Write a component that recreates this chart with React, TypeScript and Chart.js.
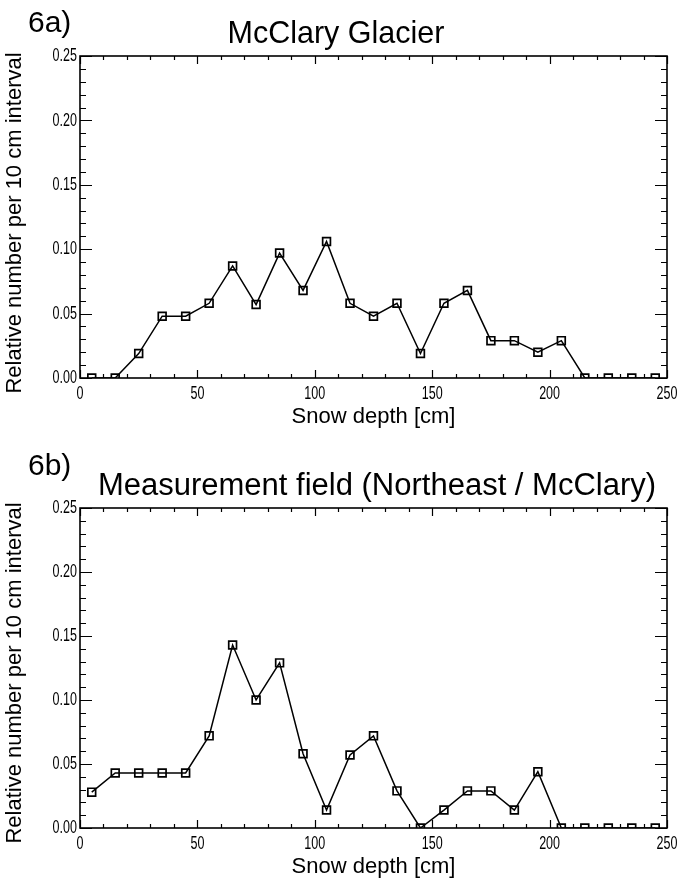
import React, { useEffect, useRef } from "react";
import { Chart, registerables } from "chart.js";

Chart.register(...registerables);

// ---- data ----
const depths = [5, 15, 25, 35, 45, 55, 65, 75, 85, 95, 105, 115, 125, 135, 145, 155, 165, 175, 185, 195, 205, 215, 225, 235, 245];
const mcclaryValues = [0, 0, 0.019, 0.048, 0.048, 0.058, 0.087, 0.057, 0.097, 0.068, 0.106, 0.058, 0.048, 0.058, 0.019, 0.058, 0.068, 0.029, 0.029, 0.02, 0.029, 0, 0, 0, 0];
const fieldValues = [0.028, 0.043, 0.043, 0.043, 0.043, 0.072, 0.143, 0.1, 0.129, 0.058, 0.014, 0.057, 0.072, 0.029, 0, 0.014, 0.029, 0.029, 0.014, 0.044, 0, 0, 0, 0, 0];
const xTicks = [0, 50, 100, 150, 200, 250];
const yTicks = [0, 0.05, 0.1, 0.15, 0.2, 0.25];
const xTickLabels = ["0", "50", "100", "150", "200", "250"];
const yTickLabels = ["0.00", "0.05", "0.10", "0.15", "0.20", "0.25"];
const xMinorTicks = [0, 10, 20, 30, 40, 50, 60, 70, 80, 90, 100, 110, 120, 130, 140, 150, 160, 170, 180, 190, 200, 210, 220, 230, 240, 250];
const yMinorTicks = [0, 0.01, 0.02, 0.03, 0.04, 0.05, 0.06, 0.07, 0.08, 0.09, 0.1, 0.11, 0.12, 0.13, 0.14, 0.15, 0.16, 0.17, 0.18, 0.19, 0.2, 0.21, 0.22, 0.23, 0.24, 0.25];
const panelLabels = ["6a)", "6b)"];
const panelTitles = ["McClary Glacier", "Measurement field (Northeast / McClary)"];
const xTitle = "Snow depth [cm]";
const yTitle = "Relative number per 10 cm interval";

const SANS = '"Liberation Sans", Arial, sans-serif';

type PanelProps = {
  values: number[];
  label: string;
  title: string;
  titleSize: number;
  top: number;
  padTop: number;
  titleX: number;
  titleBase: number;
  labelX: number;
  labelBase: number;
  yTitleCenter: number;
};

const W = 677;
const H = 440;
const NARROW_SCALE = 0.66;

function Panel(p: PanelProps) {
  const ref = useRef<HTMLCanvasElement | null>(null);
  useEffect(() => {
    if (!ref.current) return;
    const decor = {
      id: "decor",
      afterDatasetsDraw(chart: any) {
        const { ctx, chartArea: a, scales } = chart;
        const x = scales.x;
        const y = scales.y;
        ctx.save();
        ctx.strokeStyle = "#000";
        ctx.lineWidth = 1.2;
        ctx.beginPath();
        xMinorTicks.forEach((v) => {
          const px = Math.round(x.getPixelForValue(v)) + 0.5;
          const major = xTicks.includes(v);
          const len = major ? 8 : 4;
          ctx.moveTo(px, a.bottom);
          ctx.lineTo(px, a.bottom - len);
          ctx.moveTo(px, a.top);
          ctx.lineTo(px, a.top + len);
        });
        yMinorTicks.forEach((v, i) => {
          const py = Math.round(y.getPixelForValue(v)) + 0.5;
          const major = i % 5 === 0;
          const len = major ? 12 : 6;
          ctx.moveTo(a.left, py);
          ctx.lineTo(a.left + len, py);
          ctx.moveTo(a.right, py);
          ctx.lineTo(a.right - len, py);
        });
        ctx.stroke();
        ctx.lineWidth = 1.6;
        ctx.strokeRect(a.left, a.top, a.right - a.left, a.bottom - a.top);
        ctx.restore();
      },
      afterDraw(chart: any) {
        const { ctx, chartArea: a, scales } = chart;
        const x = scales.x;
        const y = scales.y;
        ctx.save();
        ctx.fillStyle = "#000";
        // narrow tick labels (condensed, like the original plotting font)
        ctx.font = `19px ${SANS}`;
        ctx.textBaseline = "middle";
        ctx.textAlign = "right";
        yTicks.forEach((v, i) => {
          const py = y.getPixelForValue(v);
          ctx.save();
          ctx.translate(a.left - 3, py);
          ctx.scale(NARROW_SCALE, 1);
          ctx.fillText(yTickLabels[i], 0, 0);
          ctx.restore();
        });
        ctx.textBaseline = "top";
        ctx.textAlign = "center";
        xTicks.forEach((v, i) => {
          const px = x.getPixelForValue(v);
          ctx.save();
          ctx.translate(px, a.bottom + 6);
          ctx.scale(NARROW_SCALE, 1);
          ctx.fillText(xTickLabels[i], 0, 0);
          ctx.restore();
        });
        // y axis title
        ctx.save();
        ctx.font = `22px ${SANS}`;
        ctx.textAlign = "center";
        ctx.textBaseline = "middle";
        ctx.translate(15, p.yTitleCenter);
        ctx.rotate(-Math.PI / 2);
        ctx.fillText(yTitle, 0, 0);
        ctx.restore();
        // panel title and label
        ctx.textBaseline = "alphabetic";
        ctx.font = `${p.titleSize}px ${SANS}`;
        ctx.textAlign = "center";
        ctx.fillText(p.title, p.titleX, p.titleBase);
        ctx.font = `30px ${SANS}`;
        ctx.textAlign = "left";
        ctx.fillText(p.label, p.labelX, p.labelBase);
        ctx.restore();
      },
    };
    const chart = new Chart(ref.current, {
      type: "line",
      data: {
        datasets: [
          {
            data: depths.map((d, i) => ({ x: d, y: p.values[i] })),
            borderColor: "#000",
            borderWidth: 1.5,
            pointStyle: "rect",
            pointRadius: 5.5,
            pointBorderWidth: 1.7,
            pointBackgroundColor: "rgba(0,0,0,0)",
            pointBorderColor: "#000",
            tension: 0,
            fill: false,
          },
        ],
      },
      options: {
        responsive: false,
        animation: false,
        events: [],
        layout: { padding: { top: p.padTop, right: 10, left: 0, bottom: 0 } },
        plugins: { legend: { display: false }, tooltip: { enabled: false }, title: { display: false } },
        scales: {
          x: {
            type: "linear",
            min: 0,
            max: 250,
            afterFit: (s: any) => {
              s.height = 62;
              s.paddingLeft = 0;
              s.paddingRight = 0;
            },
            afterBuildTicks: (s: any) => {
              s.ticks = xTicks.map((v) => ({ value: v }));
            },
            grid: { display: false, drawTicks: false },
            border: { display: false },
            ticks: { display: false },
            title: {
              display: true,
              text: xTitle,
              color: "#000",
              font: { family: SANS, size: 22 },
              padding: { top: 0, bottom: 10 },
            },
          },
          y: {
            type: "linear",
            min: 0,
            max: 0.25,
            afterFit: (s: any) => {
              s.width = 80;
              s.paddingTop = 0;
              s.paddingBottom = 0;
            },
            afterBuildTicks: (s: any) => {
              s.ticks = yTicks.map((v) => ({ value: v }));
            },
            grid: { display: false, drawTicks: false },
            border: { display: false },
            ticks: { display: false },
            title: { display: false },
          },
        },
      },
      plugins: [decor],
    } as any);
    return () => chart.destroy();
  }, []);
  return (
    <canvas
      ref={ref}
      width={W}
      height={H}
      style={{ position: "absolute", left: 0, top: p.top, width: W, height: H, display: "block" }}
    />
  );
}

export default function App() {
  return (
    <div style={{ position: "absolute", left: 0, top: 0, width: 677, height: 881, overflow: "hidden", background: "#fff" }}>
      <Panel
        values={mcclaryValues}
        label={panelLabels[0]}
        title={panelTitles[0]}
        titleSize={30.5}
        top={0}
        padTop={56}
        titleX={336}
        titleBase={43}
        labelX={28}
        labelBase={32}
        yTitleCenter={223}
      />
      <Panel
        values={fieldValues}
        label={panelLabels[1]}
        title={panelTitles[1]}
        titleSize={31}
        top={450}
        padTop={58}
        titleX={377}
        titleBase={45}
        labelX={28}
        labelBase={25}
        yTitleCenter={223}
      />
    </div>
  );
}
